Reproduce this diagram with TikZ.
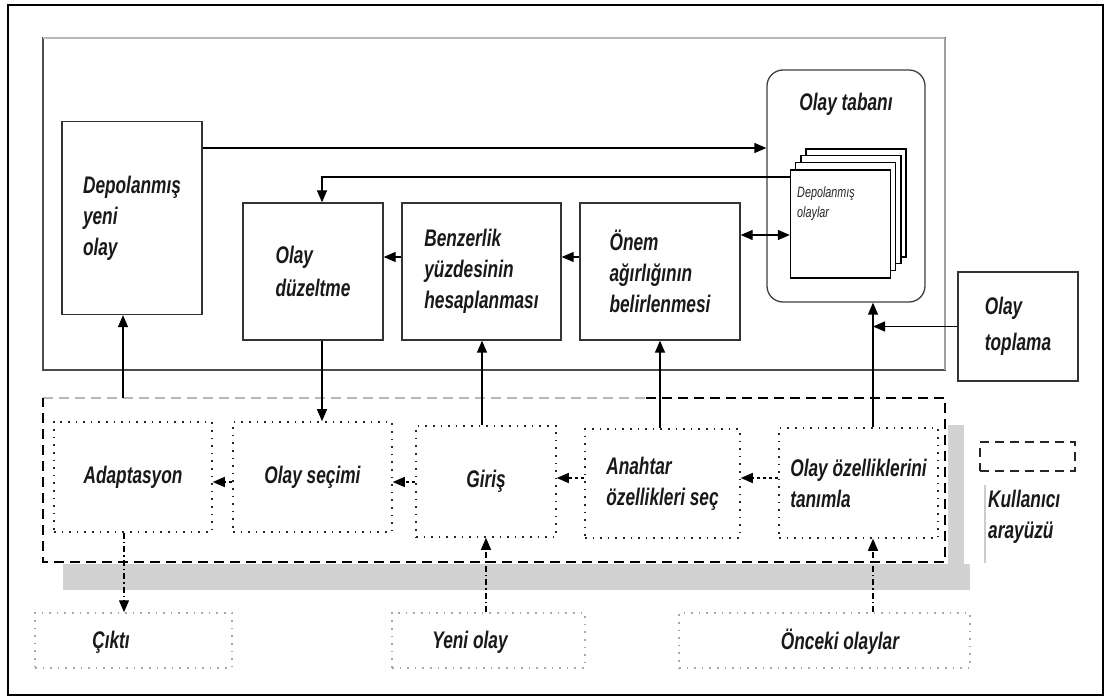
\documentclass[tikz,border=0pt]{standalone}
\usepackage{fontspec}
\setmainfont{Liberation Sans}
\newfontfamily\narrowsans[FakeStretch=0.72]{Liberation Sans}
\usetikzlibrary{arrows.meta,calc}

\begin{document}
\begin{tikzpicture}[x=1pt,y=-1pt,
  txt/.style={font=\narrowsans\bfseries\itshape\fontsize{24}{31}\selectfont, align=left, inner sep=0pt, text=black!90},
  smalltxt/.style={font=\narrowsans\itshape\fontsize{15}{20}\selectfont, align=left, inner sep=0pt, text=black!85},
  solidbox/.style={rectangle, draw=black!80, line width=1.3pt, fill=white, inner sep=0pt, txt},
  uibox/.style={rectangle, draw=black!85, line width=1.5pt, dash pattern=on 1.6pt off 6pt, inner sep=0pt, txt},
  extbox/.style={rectangle, draw=gray!70, line width=1.5pt, dash pattern=on 1.6pt off 6pt, inner sep=0pt},
  page/.style={rectangle, draw=black, line width=1.4pt, fill=white, inner sep=0pt, minimum width=100pt, minimum height=108pt},
  arr/.style={line width=1.3pt, -{Triangle[length=12pt,width=10pt]}},
  darr/.style={line width=1.3pt, {Triangle[length=12pt,width=10pt]}-{Triangle[length=12pt,width=10pt]}},
  dotarr/.style={arr, dash pattern=on 3pt off 3pt},
  dasharr/.style={arr, line width=1.3pt, dash pattern=on 6pt off 3pt on 1.5pt off 3pt},
  uiline/.style={line width=2pt, dash pattern=on 10pt off 6pt},
]
\useasboundingbox (0,0) rectangle (1109,700);
\fill[white] (0,0) rectangle (1109,700);

% outer frame
\draw[line width=2.5pt] (8,5) rectangle (1103,695);

% system box
\draw[line width=1.6pt, black!70] (43,38) rectangle (945,370);
\draw[line width=2.4pt, gray!55] (43,38) -- (945,38);
\draw[line width=1.6pt, gray!75] (945,38) -- (945,370);

% shadow of the user interface area
\fill[gray!35] (63,564) rectangle (970,590);
\fill[gray!35] (948,425) rectangle (964,590);
\draw[gray!40, line width=1.5pt] (985,485) -- (985,563);

% user interface area
\coordinate (uiTL) at (43,398);
\coordinate (uiMid) at (646,398);
\coordinate (uiTR) at (945,398);
\coordinate (uiBR) at (945,562);
\coordinate (uiBL) at (43,562);
\draw[uiline, gray!55] (uiTL) -- (uiMid);
\draw[uiline] (uiMid) -- (uiTR) -- (uiBR) -- (uiBL) -- (uiTL);

% upper boxes
\node[solidbox, minimum width=140pt, minimum height=193pt] (dep) at (132,218) {Depolanmış\\yeni\\olay};
\node[solidbox, minimum width=140pt, minimum height=137pt] (duz) at (313,271.5) {Olay\\[2pt]düzeltme};
\node[solidbox, minimum width=159pt, minimum height=137pt] (benz) at (481.5,271.5) {Benzerlik\\yüzdesinin\\hesaplanması};
\node[solidbox, minimum width=160pt, minimum height=137pt] (onem) at (660,271.5) {Önem\\ağırlığının\\belirlenmesi};
\node[solidbox, minimum width=120pt, minimum height=109pt] (toplama) at (1018,326.5) {Olay\\[5pt]toplama};

% case base
\node[rectangle, rounded corners=16pt, draw=black!75, line width=1.3pt, minimum width=158pt, minimum height=232pt] (taban) at (846,186) {};
\node[txt] (tabantxt) at (846,104) {Olay tabanı};
\node[page] (p4) at (856,203) {};
\node[page] (p3) at (851,209.5) {};
\node[page] (p2) at (845.5,216.5) {};
\node[page] (p1) at (840.5,224) {};
\node[smalltxt, anchor=north west] (p1txt) at (797,186) {Depolanmış\\olaylar};

% user interface boxes
\node[uibox, minimum width=158pt, minimum height=110pt] (adapt) at (133,477) {Adaptasyon};
\node[uibox, minimum width=159pt, minimum height=110pt] (secim) at (312.5,477) {Olay seçimi};
\node[uibox, minimum width=140pt, minimum height=111pt] (giris) at (486,481.5) {Giriş};
\node[uibox, minimum width=155pt, minimum height=109pt] (anahtar) at (662.5,483.5) {Anahtar\\özellikleri seç};
\node[uibox, minimum width=159pt, minimum height=110pt] (ozell) at (858.5,483) {Olay özelliklerini\\tanımla};

% external boxes
\node[extbox, minimum width=197pt, minimum height=55pt] (cikti) at (133.5,640.5) {};
\node[txt] (ciktitxt) at (111,642) {Çıktı};
\node[extbox, minimum width=193pt, minimum height=55pt] (yeni) at (488.5,640.5) {};
\node[txt] (yenitxt) at (470,642) {Yeni olay};
\node[extbox, minimum width=291pt, minimum height=55pt] (onceki) at (824.5,640.5) {};
\node[txt] (oncekitxt) at (840,642) {Önceki olaylar};

% legend
\node[rectangle, draw=black!85, line width=1.6pt, dash pattern=on 9pt off 6pt, minimum width=95pt, minimum height=29pt] (legend) at (1027.5,456.5) {};
\node[txt, anchor=west] (legtxt) at (988,517) {Kullanıcı\\arayüzü};

% helper levels
\coordinate (yA) at (0,148);
\coordinate (yB) at (0,177);
\coordinate (yC) at (0,235);
\coordinate (yD) at (0,257);
\coordinate (yF) at (0,482);
\coordinate (yG) at (0,478);
\coordinate (xE) at (873,0);

% solid connectors
\draw[arr] (dep.east |- yA) -- (taban.west |- yA);
\draw[arr] (p1.west |- yB) -| ([xshift=9pt]duz.north);
\draw[darr] (onem.east |- yC) -- (p1.west |- yC);
\draw[arr] (benz.west |- yD) -- (duz.east |- yD);
\draw[arr] (onem.west |- yD) -- (benz.east |- yD);
\draw[arr] ([xshift=0.5pt]benz.south |- giris.north) -- ([xshift=0.5pt]benz.south);
\draw[arr] (onem.south |- anahtar.north) -- (onem.south);
\draw[arr] (xE |- ozell.north) -- (xE |- taban.south);
\draw[arr] (toplama.west) -- (xE |- toplama.west);
\draw[arr] ([xshift=9pt]duz.south) -- ([xshift=9pt]duz.south |- secim.north);
\draw[arr] ([xshift=-9pt]dep.south |- uiTL) -- ([xshift=-9pt]dep.south);

% dotted connectors inside the user interface
\draw[dotarr] (giris.west |- yF) -- (secim.east |- yF);
\draw[dotarr] (secim.west |- yF) -- (adapt.east |- yF);
\draw[dotarr] (anahtar.west |- yG) -- (giris.east |- yG);
\draw[dotarr] (ozell.west |- yG) -- (anahtar.east |- yG);

% dash-dotted connectors to the outside
\draw[dasharr] ([xshift=-9pt]adapt.south) -- ([xshift=-9pt]adapt.south |- cikti.north);
\draw[dasharr] (giris.south |- yeni.north) -- (giris.south);
\draw[dasharr] (xE |- onceki.north) -- (xE |- ozell.south);
\end{tikzpicture}
\end{document}
